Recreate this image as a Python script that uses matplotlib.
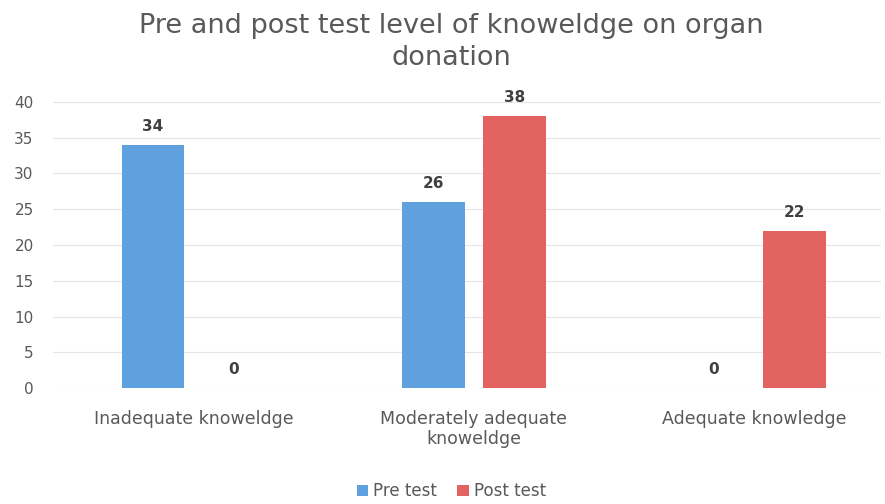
import matplotlib
matplotlib.use("Agg")
import matplotlib.pyplot as plt
import numpy as np

categories = ["Inadequate knoweldge", "Moderately adequate\nknoweldge", "Adequate knowledge"]
pre_test = [34, 26, 0]
post_test = [0, 38, 22]
series_names = ["Pre test", "Post test"]
yticks = [0, 5, 10, 15, 20, 25, 30, 35, 40]

blue = "#5FA1DE"
red = "#E2635F"
txt = "#595959"

plt.rcParams['font.family'] = ['DejaVu Sans']
fig = plt.figure(figsize=(8.85, 5.04), dpi=100)
ax = fig.add_axes([0.06, 0.23, 0.935, 0.568])

x = np.arange(len(categories))
w = 0.224
off = 0.144
b1 = ax.bar(x - off, pre_test, w, color=blue, label=series_names[0], zorder=3)
b2 = ax.bar(x + off, post_test, w, color=red, label=series_names[1], zorder=3)

for bars, vals in ((b1, pre_test), (b2, post_test)):
    for r, v in zip(bars, vals):
        ax.text(r.get_x() + r.get_width() / 2, v + 1.5, str(v), ha="center", va="bottom",
                fontsize=11, color="#404040", fontweight="bold")

ax.set_xlim(-0.5, 2.45)
ax.set_ylim(0, 40)
ax.set_yticks(yticks)
ax.set_xticks(x)
ax.set_xticklabels(categories, fontsize=12.5, color=txt, linespacing=1.15)
ax.tick_params(axis="y", labelsize=11, labelcolor=txt, length=0, pad=14)
ax.tick_params(axis="x", length=0, pad=16)
ax.grid(axis="y", color="#E6E6E6", linewidth=0.8, zorder=0)
for s in ax.spines.values():
    s.set_visible(False)

fig.suptitle("Pre and post test level of knoweldge on organ\ndonation", x=0.51, y=0.975,
             fontsize=19.5, color=txt, linespacing=1.3)

fig.legend(handles=[b1, b2], labels=series_names, loc="center", bbox_to_anchor=(0.51, 0.025),
           ncol=2, frameon=False, fontsize=12, handlelength=0.7, handleheight=0.7,
           columnspacing=1.2, handletextpad=0.3, labelcolor=txt)

fig.savefig("out.png", dpi=100)
